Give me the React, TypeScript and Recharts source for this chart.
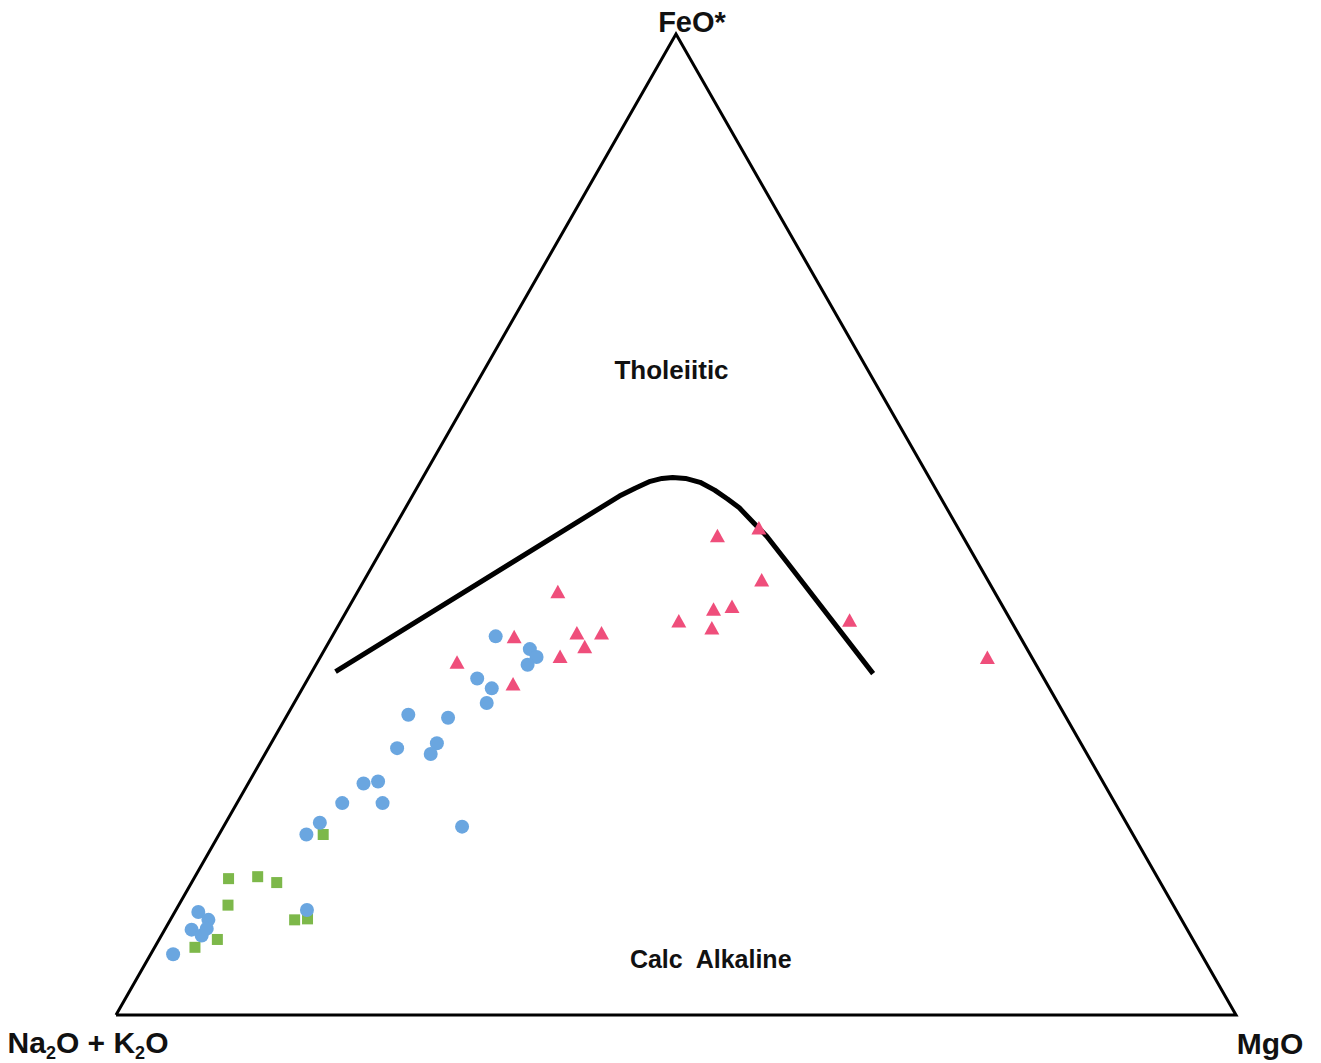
import React from "react";
import { ScatterChart, Scatter, XAxis, YAxis, ReferenceDot } from "recharts";

// AFM ternary diagram. Every composition is [Na2O+K2O, FeO*, MgO] in %.
const vertices: number[][] = [
  [100, 0, 0],
  [0, 0, 100],
  [0, 100, 0],
  [100, 0, 0],
];

// Tholeiitic / calc-alkaline dividing line
const boundary: number[][] = [
  [62.9, 35.0, 2.1],
  [28.6, 52.9, 18.5],
  [26.8, 53.7, 19.5],
  [25.1, 54.4, 20.5],
  [23.9, 54.7, 21.4],
  [22.9, 54.8, 22.3],
  [21.8, 54.7, 23.5],
  [20.7, 54.3, 25.0],
  [19.8, 53.5, 26.7],
  [19.1, 52.6, 28.3],
  [18.5, 51.7, 29.8],
  [18.0, 50.2, 31.8],
  [17.5, 48.8, 33.7],
  [17.0, 46.1, 36.9],
  [15.0, 34.8, 50.2],
];

const blueSamples: number[][] = [
  [91.8, 6.2, 2.0], [87.4, 10.5, 2.1], [86.9, 9.7, 3.4], [88.9, 8.7, 2.4],
  [88.3, 8.1, 3.6], [87.5, 8.8, 3.7], [77.6, 10.7, 11.7], [46.8, 38.6, 14.6],
  [50.6, 34.3, 15.1], [49.8, 33.3, 16.9], [51.0, 31.8, 17.2], [58.6, 30.6, 10.8],
  [55.2, 30.3, 14.5], [57.5, 27.7, 14.8], [61.3, 27.2, 11.5], [58.6, 26.6, 14.8],
  [64.7, 23.8, 11.5], [66.1, 23.6, 10.3], [69.0, 21.6, 9.4], [65.4, 21.6, 13.0],
  [72.0, 19.6, 8.4], [73.8, 18.4, 7.8], [59.5, 19.2, 21.3], [44.4, 37.3, 18.3],
  [44.2, 36.5, 19.3], [45.4, 35.7, 18.9],
];

const greenSamples: number[][] = [
  [83.0, 13.9, 3.1], [80.3, 14.1, 5.6], [78.9, 13.5, 7.6], [84.4, 11.2, 4.4],
  [79.2, 9.7, 11.1], [78.0, 9.8, 12.2], [87.1, 7.7, 5.2], [89.5, 6.9, 3.6],
  [72.3, 18.4, 9.3],
];

const redSamples: number[][] = [
  [39.0, 43.1, 17.9], [45.2, 38.5, 16.3], [51.6, 35.9, 12.5], [47.7, 33.7, 18.6],
  [39.4, 38.9, 21.7], [37.2, 38.9, 23.9], [39.4, 37.5, 23.1], [42.1, 36.5, 21.4],
  [21.9, 48.8, 29.3], [17.8, 49.6, 32.6], [20.2, 44.3, 35.5], [24.2, 41.6, 34.2],
  [26.0, 41.3, 32.7], [29.7, 40.1, 30.2], [27.1, 39.4, 33.5], [14.4, 40.2, 45.4],
  [4.0, 36.4, 59.6],
];

const fieldLabels = ["Tholeiitic", "Calc  Alkaline"];
const fieldLabelAt: number[][] = [
  [18.0, 64.8, 17.2],
  [44.5, 4.8, 50.7],
];

const FONT = "'Liberation Sans', Arial, Helvetica, sans-serif";

function toXY(c: number[]) {
  const [a, f, m] = c;
  const s = a + f + m;
  return { x: ((m + f / 2) / s) * 100, y: (f / s) * 100 };
}

const noMarker = () => <g />;

const circleShape = (p: any) => <circle cx={p.cx} cy={p.cy} r={7} fill="#6AA6E0" />;
const squareShape = (p: any) => (
  <rect x={p.cx - 5.5} y={p.cy - 5.5} width={11} height={11} fill="#7DB84A" />
);
const triangleShape = (p: any) => (
  <polygon
    points={`${p.cx},${p.cy - 7.5} ${p.cx + 7.5},${p.cy + 6} ${p.cx - 7.5},${p.cy + 6}`}
    fill="#EF4E7B"
  />
);

function vertexLabel(which: number) {
  return (p: any) => {
    if (which === 0) {
      return (
        <text x={p.cx - 28} y={p.cy + 38} textAnchor="middle" fontFamily={FONT} fontWeight="bold" fontSize={30} fill="#111">
          <tspan>Na</tspan>
          <tspan fontSize={18} dy={6}>2</tspan>
          <tspan dy={-6}>O + K</tspan>
          <tspan fontSize={18} dy={6}>2</tspan>
          <tspan dy={-6}>O</tspan>
        </text>
      );
    }
    if (which === 1) {
      return (
        <text x={p.cx + 34} y={p.cy + 39} textAnchor="middle" fontFamily={FONT} fontWeight="bold" fontSize={30} fill="#111">
          MgO
        </text>
      );
    }
    return (
      <text x={p.cx + 16} y={p.cy - 2} textAnchor="middle" fontFamily={FONT} fontWeight="bold" fontSize={29} fill="#111">
        FeO*
      </text>
    );
  };
}

function fieldLabel(i: number) {
  return (p: any) => (
    <text
      x={p.cx}
      y={p.cy}
      textAnchor="middle"
      fontFamily={FONT}
      fontWeight="bold"
      fontSize={i === 0 ? 26 : 25}
      fill="#111"
      style={{ whiteSpace: "pre" }}
    >
      {fieldLabels[i]}
    </text>
  );
}

export default function App() {
  const frame = vertices.map(toXY);
  const line = boundary.map(toXY);
  const blue = blueSamples.map(toXY);
  const green = greenSamples.map(toXY);
  const red = redSamples.map(toXY);

  return (
    <div style={{ position: "absolute", left: 0, top: 0, width: 1321, height: 1063, background: "#fff" }}>
      <ScatterChart width={1321} height={1063} margin={{ top: 34, right: 85, bottom: 48, left: 116 }}>
        <XAxis type="number" dataKey="x" domain={[0, 100]} hide />
        <YAxis type="number" dataKey="y" domain={[0, 100]} hide />
        <Scatter
          data={frame}
          line={{ stroke: "#000", strokeWidth: 3, strokeLinejoin: "miter" }}
          lineType="joint"
          shape={noMarker}
          isAnimationActive={false}
        />
        <Scatter
          data={line}
          line={{ stroke: "#000", strokeWidth: 5, strokeLinejoin: "round" }}
          lineType="joint"
          shape={noMarker}
          isAnimationActive={false}
        />
        <Scatter data={green} shape={squareShape} isAnimationActive={false} />
        <Scatter data={blue} shape={circleShape} isAnimationActive={false} />
        <Scatter data={red} shape={triangleShape} isAnimationActive={false} />
        {vertices.slice(0, 3).map((v, i) => {
          const pt = toXY(v);
          return <ReferenceDot key={"v" + i} x={pt.x} y={pt.y} r={0} ifOverflow="visible" shape={vertexLabel(i)} />;
        })}
        {fieldLabelAt.map((v, i) => {
          const pt = toXY(v);
          return <ReferenceDot key={"f" + i} x={pt.x} y={pt.y} r={0} ifOverflow="visible" shape={fieldLabel(i)} />;
        })}
      </ScatterChart>
    </div>
  );
}
